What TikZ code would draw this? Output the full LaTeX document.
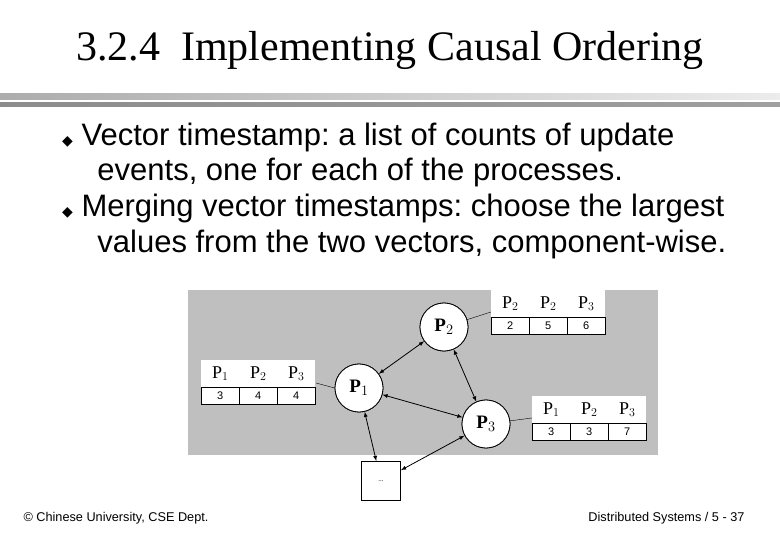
\documentclass[tikz,border=0pt]{standalone}
\usepackage{fontspec}
\setmainfont{Liberation Serif}
\setsansfont{Liberation Sans}
\newfontfamily\symfont{DejaVu Sans}
\usetikzlibrary{arrows}
\frenchspacing

\tikzset{
  proc/.style={circle,draw,thick,fill=white,minimum size=48pt,inner sep=0pt,font=\bfseries\fontsize{19}{19}\selectfont},
  link/.style={<->,>=latex,thick},
  tag/.style={thin},
  hcell/.style={fill=white,minimum width=38pt,minimum height=27pt,inner sep=0pt,font=\fontsize{18}{18}\selectfont,anchor=north west},
  vcell/.style={draw,fill=white,minimum width=38pt,minimum height=17pt,inner sep=0pt,font=\sffamily\fontsize{11}{11}\selectfont,anchor=north west},
  bullet/.style={anchor=west,inner sep=0pt,font=\sffamily\fontsize{31}{31}\selectfont}
}
\newcommand{\vtable}[6]{%
  \node[hcell] at (#1,#2) {P$_{#3}$};
  \node[hcell] at (#1+38,#2) {P$_2$};
  \node[hcell] at (#1+76,#2) {P$_3$};
  \node[vcell] at (#1,#2+27) {#4};
  \node[vcell] at (#1+38,#2+27) {#5};
  \node[vcell] at (#1+76,#2+27) {#6};
}

\begin{document}
\begin{tikzpicture}[x=1pt,y=-1pt]
  \useasboundingbox[fill=white] (0,0) rectangle (780,540);

  % title and rules
  \node (title) at (390,50) {\fontsize{42}{42}\selectfont 3.2.4\ \ Implementing Causal Ordering};
  \shade[left color=gray!65,right color=gray!15] (0,94) rectangle (780,100);
  \shade[left color=gray!90,right color=gray!75] (0,103) rectangle (780,107);

  % bullets
  \node[bullet] (b1) at (62,137) {{\symfont\fontsize{14}{14}\selectfont ◆}\ Vector timestamp: a list of counts of update};
  \node[bullet] (b1b) at (80,172) {\ \ events, one for each of the processes.};
  \node[bullet] (b2) at (62,208) {{\symfont\fontsize{14}{14}\selectfont ◆}\ Merging vector timestamps: choose the largest};
  \node[bullet] (b2b) at (80,244) {\ \ values from the two vectors, component-wise.};

  % diagram
  \fill[gray!50] (188,290) rectangle (658,455);
  \vtable{491}{290}{2}{2}{5}{6}
  \vtable{201}{360}{1}{3}{4}{4}
  \vtable{532}{396}{1}{3}{3}{7}
  \coordinate (t2) at (491,312);
  \coordinate (t1) at (316,383);
  \coordinate (t3) at (532,418);

  \node[proc] (p2) at (444,327) {P$_2$};
  \node[proc] (p1) at (359,388) {P$_1$};
  \node[proc] (p3) at (486,424) {P$_3$};
  \node[draw,thick,fill=white,minimum size=39pt,inner sep=0pt,font=\scriptsize] (etc) at (381,481) {...};

  \draw[tag] (p2.center) -- (t2);
  \draw[tag] (p1.west) -- (t1);
  \draw[tag] (p3.center) -- (t3);
  \node[proc] at (p2) {P$_2$};
  \node[proc] at (p1) {P$_1$};
  \node[proc] at (p3) {P$_3$};

  \draw[link] (p2) -- (p1);
  \draw[link] (p2) -- (p3);
  \draw[link] (p1) -- (p3);
  \draw[link] (p1) -- (etc);
  \draw[link] (p3) -- (etc);

  % footer
  \node[anchor=west,font=\sffamily\fontsize{12.7}{13}\selectfont] (foot1) at (20,518) {© Chinese University, CSE Dept.};
  \node[anchor=east,font=\sffamily\fontsize{12.7}{13}\selectfont] (foot2) at (748,518) {Distributed Systems / 5 - 37};
\end{tikzpicture}
\end{document}
